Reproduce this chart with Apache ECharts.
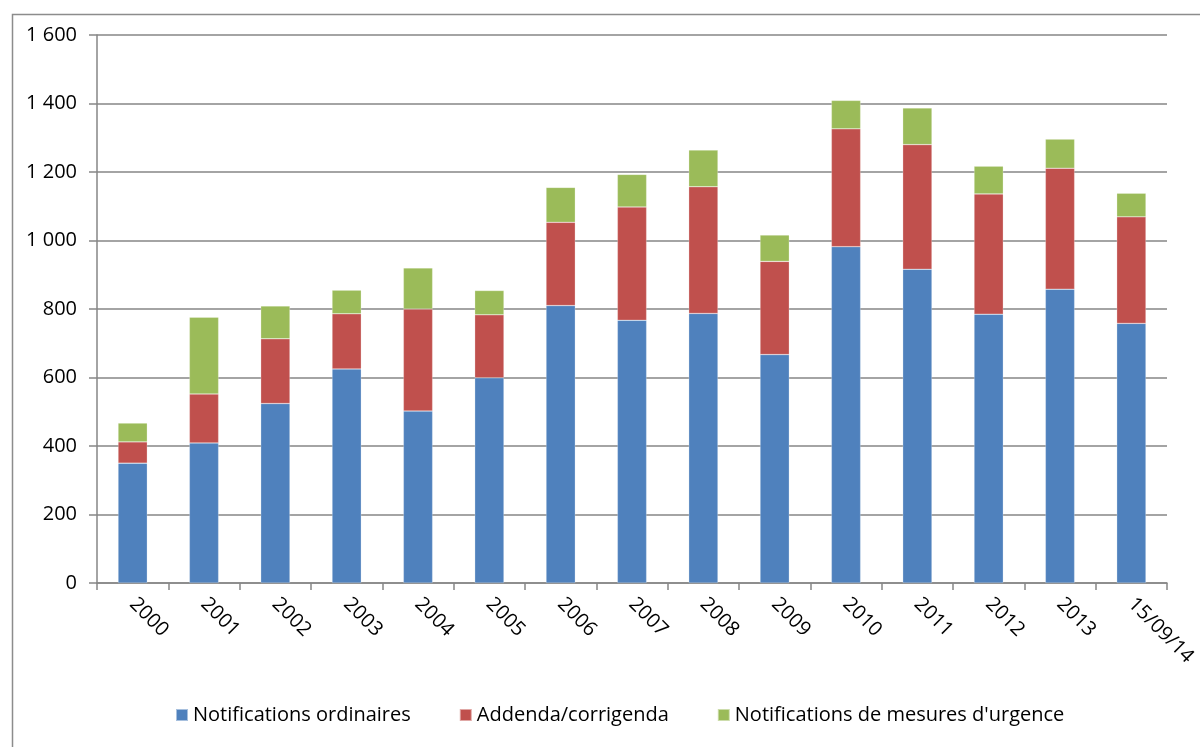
<!DOCTYPE html>
<html>
<head>
<meta charset="utf-8">
<script src="https://cdn.jsdelivr.net/npm/echarts@6/dist/echarts.min.js"></script>
<style>html,body{margin:0;padding:0;background:#fff;}#c{width:1200px;height:747px;}</style>
</head>
<body>
<div id="c"></div>
<script>
const categories = ['2000','2001','2002','2003','2004','2005','2006','2007','2008','2009','2010','2011','2012','2013','15/09/14'];
const ordinaires = [350,409,524,625,502,599,810,767,787,667,982,916,785,858,758];
const addenda = [62,143,189,161,298,184,243,331,370,272,344,364,351,353,311];
const urgence = [55,224,96,69,120,71,102,95,107,77,83,107,81,85,69];
const seriesNames = ['Notifications ordinaires','Addenda/corrigenda',"Notifications de mesures d'urgence"];
const yTicks = {min:0, max:1600, interval:200};

const font = "'Open Sans', 'Liberation Sans', sans-serif";
const chart = echarts.init(document.getElementById('c'));
const fmt = v => String(v).replace(/\B(?=(\d{3})+(?!\d))/g, ' ');
const mk = (name, data, color) => ({
  name, type:'bar', stack:'t', data, barWidth:'41%',
  itemStyle:{color, borderColor:'rgba(255,255,255,0.5)', borderWidth:0.5}
});
chart.setOption({
  animation:false,
  graphic:[{type:'rect', shape:{x:12.5,y:14.5,width:1200,height:800}, style:{fill:'none',stroke:'#8c8c8c',lineWidth:1.5}}],
  grid:{left:97, right:33, top:35, bottom:164},
  legend:{bottom:17, left:170, itemWidth:12, itemHeight:12, itemGap:48, icon:'rect',
    textStyle:{fontFamily:font, fontSize:20, color:'#000'}, data:seriesNames},
  xAxis:{type:'category', data:categories,
    axisLine:{lineStyle:{color:'#868686', width:1.5}},
    axisTick:{show:true, length:7, lineStyle:{color:'#868686', width:1.5}},
    axisLabel:{rotate:-45, fontFamily:font, fontSize:20, color:'#000', margin:18, interval:0}},
  yAxis:{type:'value', min:yTicks.min, max:yTicks.max, interval:yTicks.interval,
    axisLine:{show:true, lineStyle:{color:'#868686', width:1.5}},
    axisTick:{show:true, length:8, lineStyle:{color:'#868686', width:1.5}},
    splitLine:{lineStyle:{color:'#868686', width:1.5}},
    axisLabel:{fontFamily:font, fontSize:20, color:'#000', margin:20, formatter:fmt}},
  series:[mk(seriesNames[0], ordinaires, '#4F81BD'), mk(seriesNames[1], addenda, '#C0504D'), mk(seriesNames[2], urgence, '#9BBB59')]
});
</script>
</body>
</html>
